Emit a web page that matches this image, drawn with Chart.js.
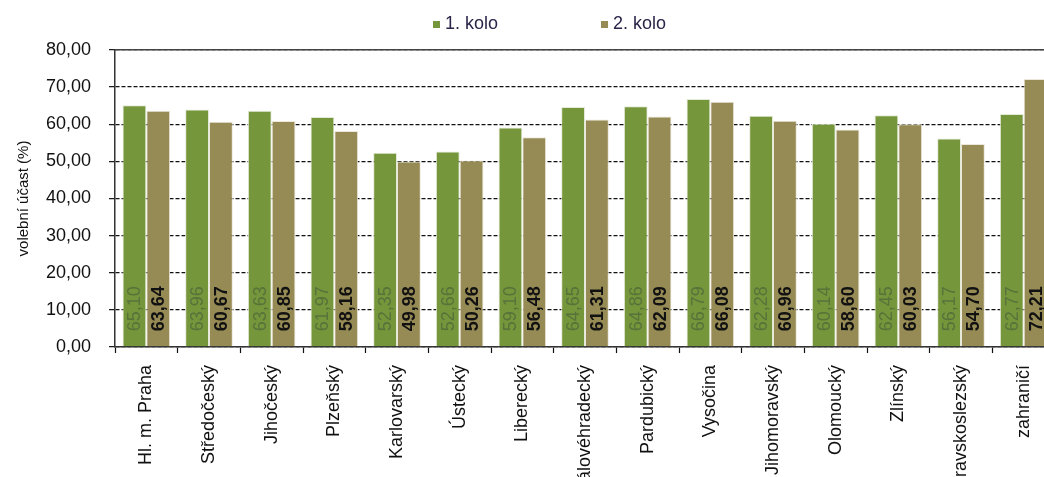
<!DOCTYPE html>
<html>
<head>
<meta charset="utf-8">
<script src="https://cdn.jsdelivr.net/npm/chart.js@4.4.1/dist/chart.umd.min.js"></script>
<style>
  html, body { margin: 0; padding: 0; overflow: hidden; background: #fff; }
  #wrap { width: 1060px; height: 477px; position: relative; }
</style>
</head>
<body>
<div id="wrap"><canvas id="turnoutChart"></canvas></div>
<script>
const regions = ["Hl. m. Praha", "Středočeský", "Jihočeský", "Plzeňský", "Karlovarský", "Ústecký", "Liberecký",
  "Královéhradecký", "Pardubický", "Vysočina", "Jihomoravský", "Olomoucký", "Zlínský", "Moravskoslezský", "zahraničí"];
const round1 = [65.10, 63.96, 63.63, 61.97, 52.35, 52.66, 59.10, 64.65, 64.86, 66.79, 62.28, 60.14, 62.45, 56.17, 62.77];
const round2 = [63.64, 60.67, 60.85, 58.16, 49.98, 50.26, 56.48, 61.31, 62.09, 66.08, 60.96, 58.60, 60.03, 54.70, 72.21];
const seriesNames = ["1. kolo", "2. kolo"];
const yTicks = [0, 10, 20, 30, 40, 50, 60, 70, 80];

const FONT = "'Liberation Sans', Arial, sans-serif";
const fmt = v => v.toFixed(2).replace(".", ",");

// value labels written upright inside the foot of each bar
const barLabels = {
  id: "barLabels",
  afterDatasetsDraw(chart) {
    const ctx = chart.ctx;
    chart.data.datasets.forEach((ds, i) => {
      chart.getDatasetMeta(i).data.forEach((bar, j) => {
        ctx.save();
        ctx.translate(bar.x, bar.base - 15);
        ctx.rotate(-Math.PI / 2);
        ctx.textAlign = "left";
        ctx.textBaseline = "middle";
        ctx.font = (ds.labelBold ? "bold " : "") + "18px " + FONT;
        ctx.fillStyle = ds.labelColor;
        ctx.fillText(fmt(ds.data[j]), 0, 1);
        ctx.restore();
      });
    });
  }
};

// small square legend at the top
const topLegend = {
  id: "topLegend",
  afterDraw(chart) {
    const ctx = chart.ctx;
    const xs = [433, 601];
    chart.data.datasets.forEach((ds, i) => {
      ctx.save();
      ctx.fillStyle = ds.backgroundColor;
      ctx.fillRect(xs[i], 21, 7, 7);
      ctx.font = "18px " + FONT;
      ctx.fillStyle = "#2a2448";
      ctx.textBaseline = "middle";
      ctx.fillText(ds.label, xs[i] + 12, 24);
      ctx.restore();
    });
  }
};

new Chart(document.getElementById("turnoutChart"), {
  type: "bar",
  data: {
    labels: regions,
    datasets: [
      { label: seriesNames[0], data: round1, backgroundColor: "#76963b", borderColor: "#e4ead8", borderWidth: 1,
        labelColor: "#56733a", labelBold: false },
      { label: seriesNames[1], data: round2, backgroundColor: "#978b55", borderColor: "#ece8dc", borderWidth: 1,
        labelColor: "#111", labelBold: true }
    ]
  },
  options: {
    responsive: true,
    maintainAspectRatio: false,
    animation: false,
    layout: { padding: { top: 50, right: 5, left: 0, bottom: 0 } },
    datasets: { bar: { categoryPercentage: 0.76, barPercentage: 1 } },
    plugins: { legend: { display: false }, tooltip: { enabled: false } },
    scales: {
      x: {
        position: "bottom",
        grid: { drawOnChartArea: false, tickLength: 6, tickColor: "#111", tickWidth: 1.2 },
        border: { color: "#333", width: 1.5 },
        ticks: { autoSkip: false, minRotation: 90, maxRotation: 90, padding: 12, color: "#111",
          font: { family: FONT, size: 18 } },
        afterFit(s) { s.height = 130; }
      },
      xTop: {
        type: "category",
        position: "top",
        labels: regions,
        grid: { display: false, drawTicks: false },
        border: { color: "#444", width: 1.5 },
        ticks: { display: false },
        afterFit(s) { s.height = 0; }
      },
      y: {
        min: 0,
        max: 80,
        afterBuildTicks(s) { s.ticks = yTicks.map(v => ({ value: v })); },
        grid: { color: "#111", lineWidth: 1.3, tickLength: 6, tickColor: "#111", tickWidth: 1.2 },
        border: { color: "#333", width: 1.5, dash: [4, 2] },
        ticks: { padding: 18, color: "#111", font: { family: FONT, size: 18 }, callback: v => fmt(v) },
        title: { display: true, text: "volební účast (%)", color: "#111",
          font: { family: FONT, size: 15 }, padding: { top: 15, bottom: 0 } },
        afterFit(s) { s.width = 115; }
      }
    }
  },
  plugins: [barLabels, topLegend]
});
</script>
</body>
</html>
